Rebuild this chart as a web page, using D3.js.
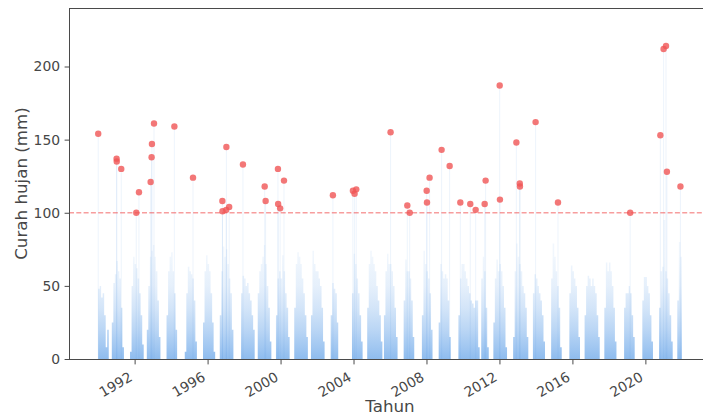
<!DOCTYPE html>
<html>
<head>
<meta charset="utf-8">
<script src="https://cdn.jsdelivr.net/npm/d3@7"></script>
<style>
  html, body { margin: 0; padding: 0; background: #ffffff; overflow: hidden; }
  text { font-family: "DejaVu Sans", sans-serif; }
</style>
</head>
<body>
<svg id="chart" width="703" height="416"></svg>
<script>
// Daily rainfall record, summarised as the wettest day of each month (mm), Jan..Dec
const firstYear = 1990;
const monthlyPeak = [
  [48, 50, 42, 45, 30, 8, 20, 0, 0, 25, 52, 58],    // 1990
  [67, 60, 55, 35, 8, 0, 0, 0, 0, 5, 50, 70],       // 1991
  [65, 62, 55, 45, 30, 10, 0, 0, 20, 50, 70, 74],   // 1992
  [78, 70, 60, 40, 15, 0, 0, 0, 0, 30, 60, 70],     // 1993
  [73, 60, 45, 20, 0, 0, 0, 0, 0, 5, 45, 63],       // 1994
  [60, 58, 55, 40, 12, 0, 0, 0, 0, 25, 60, 71],     // 1995
  [65, 60, 45, 25, 5, 0, 0, 0, 30, 60, 77, 70],     // 1996
  [75, 65, 55, 45, 20, 0, 0, 0, 0, 0, 45, 57],      // 1997
  [55, 50, 52, 45, 40, 30, 20, 0, 0, 45, 60, 65],   // 1998
  [70, 78, 65, 50, 35, 12, 0, 0, 0, 30, 55, 60],    // 1999
  [55, 71, 60, 45, 35, 15, 0, 0, 0, 35, 65, 73],    // 2000
  [70, 65, 55, 45, 30, 15, 0, 0, 30, 74, 65, 60],   // 2001
  [60, 55, 50, 35, 12, 0, 0, 0, 0, 30, 52, 48],     // 2002
  [45, 25, 0, 0, 0, 0, 0, 0, 0, 0, 0, 45],          // 2003
  [72, 65, 55, 45, 30, 12, 0, 0, 0, 35, 65, 74],    // 2004
  [70, 65, 60, 50, 40, 30, 12, 0, 30, 60, 72, 65],  // 2005
  [65, 60, 50, 35, 15, 0, 0, 0, 0, 40, 68, 60],     // 2006
  [60, 55, 40, 15, 0, 0, 0, 0, 0, 30, 74, 65],      // 2007
  [60, 55, 45, 20, 0, 0, 0, 0, 25, 65, 60, 55],     // 2008
  [58, 55, 40, 15, 0, 0, 0, 0, 0, 30, 55, 65],      // 2009
  [65, 60, 55, 50, 45, 40, 38, 35, 40, 40, 8, 0],   // 2010
  [55, 70, 60, 35, 8, 0, 0, 0, 25, 55, 68, 60],     // 2011
  [65, 60, 50, 35, 8, 0, 0, 0, 0, 15, 60, 79],      // 2012
  [70, 65, 60, 50, 45, 35, 15, 0, 0, 0, 45, 58],    // 2013
  [55, 50, 45, 40, 30, 12, 0, 0, 0, 0, 55, 79],     // 2014
  [70, 60, 50, 35, 8, 0, 0, 0, 0, 0, 45, 64],       // 2015
  [60, 55, 50, 35, 15, 0, 0, 0, 30, 50, 57, 55],    // 2016
  [50, 55, 50, 45, 30, 15, 0, 0, 0, 35, 66, 60],    // 2017
  [66, 60, 50, 35, 12, 0, 0, 0, 0, 0, 35, 45],      // 2018
  [45, 50, 45, 30, 15, 0, 0, 0, 0, 0, 40, 56],      // 2019
  [56, 50, 45, 30, 12, 0, 0, 0, 0, 35, 60, 63],     // 2020
  [95, 60, 55, 45, 30, 12, 0, 0, 0, 40, 80, 70]     // 2021
];

// Days above the 100 mm threshold
const extremeDates = [
  "1990-01-02", "1991-01-05", "1991-01-08", "1991-04-08", "1992-02-03", "1992-03-28",
  "1992-11-17", "1992-12-06", "1992-12-13", "1993-01-23", "1994-03-07", "1995-03-15",
  "1996-10-23", "1996-10-26", "1997-01-08", "1997-01-11", "1997-03-08", "1997-12-09",
  "1999-02-17", "1999-03-08", "1999-11-10", "1999-11-14", "1999-12-24", "2000-03-10",
  "2002-11-14", "2003-12-20", "2004-01-22", "2004-02-25", "2006-01-12", "2006-12-13",
  "2007-01-30", "2008-01-05", "2008-01-11", "2008-03-03", "2008-10-30", "2009-04-09",
  "2009-11-09", "2010-05-27", "2010-09-12", "2011-03-11", "2011-03-30", "2012-01-11",
  "2012-01-06", "2012-12-05", "2013-02-11", "2013-02-14", "2013-12-25", "2015-03-18",
  "2019-03-03", "2020-10-27", "2020-12-31", "2021-02-17", "2021-03-07", "2021-12-03"
];
const extremeValues = [
  154, 137, 135, 130, 100, 114,
  121, 138, 147, 161, 159, 124,
  108, 101, 102, 145, 104, 133,
  118, 108, 130, 106, 103, 122,
  112, 115, 113, 116, 155, 105,
  100, 115, 107, 124, 143, 132,
  107, 106, 102, 106, 122, 109,
  187, 148, 120, 118, 162, 107,
  100, 153, 212, 214, 128, 118
];

const threshold = 100;
const yTicks = [0, 50, 100, 150, 200];
const xTickYears = [1992, 1996, 2000, 2004, 2008, 2012, 2016, 2020];
const yLabel = "Curah hujan (mm)";
const xLabel = "Tahun";

// ---- layout ----
const svg = d3.select("#chart");
const plot = { left: 69, top: 8, right: 711, bottom: 359 };

const x = d3.scaleTime()
  .domain([new Date(1988, 4, 27), new Date(2023, 7, 7)])
  .range([plot.left, plot.right]);
const y = d3.scaleLinear()
  .domain([0, 240])
  .range([plot.bottom, plot.top]);

// monthly series as step data
const series = [];
monthlyPeak.forEach((row, i) => {
  row.forEach((v, m) => series.push({ date: new Date(firstYear + i, m, 1), value: v }));
});
series.push({ date: new Date(firstYear + monthlyPeak.length, 0, 1), value: 0 });

const extremes = extremeDates.map((d, i) => ({ date: d3.timeParse("%Y-%m-%d")(d), value: extremeValues[i] }));

// vertical fade: dense near the ground, pale for the rare heavy days
const defs = svg.append("defs");
const grad = defs.append("linearGradient")
  .attr("id", "rainFade")
  .attr("gradientUnits", "userSpaceOnUse")
  .attr("x1", 0).attr("x2", 0)
  .attr("y1", y(0)).attr("y2", y(240));
[[0, 0.62], [8, 0.52], [20, 0.38], [35, 0.24], [50, 0.14], [70, 0.08], [240, 0.05]]
  .forEach(([mm, op]) => {
    grad.append("stop")
      .attr("offset", mm / 240)
      .attr("stop-color", "#4a93e4")
      .attr("stop-opacity", op);
  });

const clip = defs.append("clipPath").attr("id", "plotClip");
clip.append("rect")
  .attr("x", plot.left).attr("y", plot.top)
  .attr("width", plot.right - plot.left).attr("height", plot.bottom - plot.top);

const g = svg.append("g").attr("clip-path", "url(#plotClip)");

// bottom spine under the rain
svg.append("line")
  .attr("x1", plot.left).attr("x2", 703)
  .attr("y1", plot.bottom + 0.5).attr("y2", plot.bottom + 0.5)
  .attr("stroke", "#4a4a4a").attr("stroke-width", 1);

const area = d3.area()
  .curve(d3.curveStepAfter)
  .x(d => x(d.date))
  .y0(y(0))
  .y1(d => y(d.value));

g.append("path")
  .datum(series)
  .attr("d", area)
  .attr("fill", "url(#rainFade)");

// stems for the heavy days
g.selectAll("line.stem")
  .data(extremes)
  .join("line")
  .attr("class", "stem")
  .attr("x1", d => x(d.date)).attr("x2", d => x(d.date))
  .attr("y1", y(0)).attr("y2", d => y(d.value))
  .attr("stroke", "#4a93e4").attr("stroke-opacity", 0.1).attr("stroke-width", 1);

// threshold line
g.append("line")
  .attr("x1", plot.left).attr("x2", plot.right)
  .attr("y1", y(threshold)).attr("y2", y(threshold))
  .attr("stroke", "#f03c3c").attr("stroke-opacity", 0.5)
  .attr("stroke-width", 1.3)
  .attr("stroke-dasharray", "5,2.3");

// heavy-rain markers
g.selectAll("circle.extreme")
  .data(extremes)
  .join("circle")
  .attr("class", "extreme")
  .attr("cx", d => x(d.date))
  .attr("cy", d => y(d.value))
  .attr("r", 3.2)
  .attr("fill", "#f05555")
  .attr("fill-opacity", 0.8);

// spines: left and top
svg.append("line")
  .attr("x1", plot.left + 0.5).attr("x2", plot.left + 0.5)
  .attr("y1", plot.top).attr("y2", plot.bottom + 1)
  .attr("stroke", "#4a4a4a").attr("stroke-width", 1);
svg.append("line")
  .attr("x1", plot.left).attr("x2", 703)
  .attr("y1", plot.top + 0.5).attr("y2", plot.top + 0.5)
  .attr("stroke", "#4a4a4a").attr("stroke-width", 1);

// y axis
const yAxis = d3.axisLeft(y).tickValues(yTicks).tickSize(4.9).tickPadding(4.5);
const yG = svg.append("g").attr("transform", `translate(${plot.left + 0.5},0)`).call(yAxis);
yG.select(".domain").remove();
yG.selectAll(".tick line").attr("stroke", "#4a4a4a");
yG.selectAll(".tick text")
  .attr("fill", "#474747")
  .style("font-family", "DejaVu Sans")
  .style("font-size", "13.9px");

// x axis with slanted year labels
const xAxis = d3.axisBottom(x)
  .tickValues(xTickYears.map(yr => new Date(yr, 0, 1)))
  .tickFormat(d3.timeFormat("%Y"))
  .tickSize(4.9);
const xG = svg.append("g").attr("transform", `translate(0,${plot.bottom + 0.5})`).call(xAxis);
xG.select(".domain").remove();
xG.selectAll(".tick line").attr("stroke", "#4a4a4a");
xG.selectAll(".tick text")
  .attr("fill", "#474747")
  .style("font-family", "DejaVu Sans")
  .style("font-size", "13.9px")
  .attr("text-anchor", "end")
  .attr("dy", 0)
  .attr("y", 0)
  .attr("transform", "translate(-8,9.5) rotate(-30) translate(0,12.6)");

// axis titles
svg.append("text")
  .attr("transform", `translate(27,${(plot.top + plot.bottom) / 2}) rotate(-90)`)
  .attr("text-anchor", "middle")
  .attr("fill", "#474747")
  .style("font-size", "16.7px")
  .text(yLabel);
svg.append("text")
  .attr("x", (plot.left + plot.right) / 2)
  .attr("y", 412)
  .attr("text-anchor", "middle")
  .attr("fill", "#474747")
  .style("font-size", "16.7px")
  .text(xLabel);
</script>
</body>
</html>
